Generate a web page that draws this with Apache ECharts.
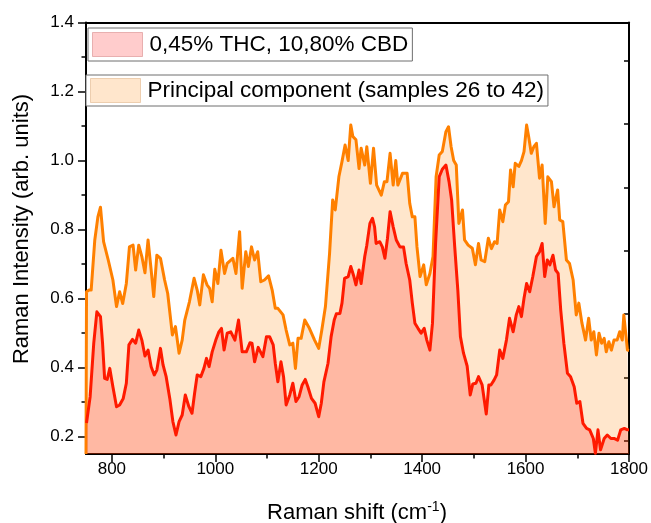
<!DOCTYPE html>
<html><head><meta charset="utf-8">
<script src="https://cdn.jsdelivr.net/npm/echarts@6/dist/echarts.min.js"></script>
<style>html,body{margin:0;padding:0;background:#fff}#c{width:651px;height:523px}</style>
</head><body><div id="c"></div><script>
// Principal component (samples 26 to 42)
const pcShift = [750,751,756,760,767,773,778,784,793,802,809,815,821,828,834,841,846,852,858,864,870,876,881,887,894,902,908,917,923,930,936,941,950,959,965,970,977,984,989,994,999,1005,1011,1018,1023,1034,1040,1047,1052,1059,1064,1070,1076,1082,1088,1095,1103,1110,1116,1121,1131,1137,1144,1150,1155,1160,1166,1173,1182,1192,1200,1206,1213,1221,1227,1232,1239,1245,1251,1257,1262,1266,1272,1278,1282,1289,1293,1300,1306,1312,1321,1327,1332,1338,1344,1349,1353,1362,1371,1376,1381,1386,1390,1396,1403,1408,1415,1421,1427,1433,1439,1446,1451,1456,1461,1466,1471,1478,1482,1489,1497,1503,1509,1514,1521,1528,1534,1540,1545,1550,1556,1561,1567,1571,1576,1580,1587,1592,1597,1602,1606,1611,1616,1621,1627,1632,1638,1643,1650,1655,1662,1666,1672,1679,1685,1692,1698,1703,1709,1716,1722,1727,1732,1737,1742,1747,1752,1756,1761,1766,1771,1777,1782,1787,1790,1793,1797,1800];
const pcIntensity = [0.15,0.62,0.625,0.625,0.77,0.837,0.865,0.765,0.712,0.654,0.577,0.62,0.586,0.644,0.75,0.755,0.683,0.755,0.722,0.675,0.77,0.683,0.606,0.726,0.717,0.654,0.615,0.495,0.519,0.442,0.48,0.538,0.591,0.659,0.625,0.582,0.669,0.64,0.63,0.591,0.685,0.644,0.74,0.673,0.702,0.717,0.673,0.794,0.63,0.736,0.693,0.75,0.712,0.736,0.649,0.654,0.666,0.625,0.572,0.572,0.553,0.509,0.466,0.471,0.398,0.485,0.485,0.538,0.514,0.48,0.456,0.509,0.577,0.731,0.886,0.857,0.953,0.997,1.045,1.0,1.103,1.07,1.06,0.977,1.036,0.987,1.04,0.934,1.036,0.929,0.9,0.939,0.939,1.021,0.929,1.0,0.929,0.963,0.963,0.876,0.837,0.837,0.75,0.664,0.698,0.64,0.673,0.722,0.953,1.016,1.026,1.084,1.098,1.04,1.0,0.987,0.818,0.857,0.77,0.755,0.746,0.698,0.76,0.712,0.707,0.775,0.745,0.765,0.76,0.857,0.823,0.871,0.881,0.973,0.924,0.992,0.983,1.0,1.026,1.103,1.069,1.021,1.04,1.05,0.949,0.987,0.818,0.953,0.939,0.866,0.915,0.828,0.823,0.712,0.702,0.654,0.553,0.587,0.529,0.48,0.543,0.48,0.504,0.437,0.5,0.471,0.485,0.446,0.475,0.451,0.48,0.48,0.504,0.48,0.553,0.509,0.451,0.45];
// 0,45% THC, 10,80% CBD sample
const sampleShift = [751,752,758,765,771,778,782,786,791,796,802,809,815,822,828,833,840,846,852,858,864,870,876,882,887,894,899,905,912,918,924,930,936,942,949,955,960,965,972,978,983,988,994,1001,1007,1012,1017,1023,1030,1038,1045,1052,1060,1067,1071,1076,1083,1092,1099,1105,1112,1116,1121,1127,1132,1137,1144,1150,1156,1162,1168,1174,1179,1186,1193,1200,1205,1210,1218,1224,1230,1234,1241,1245,1250,1257,1262,1268,1272,1278,1282,1289,1293,1299,1304,1308,1311,1318,1323,1328,1333,1338,1344,1350,1357,1364,1369,1376,1381,1386,1392,1398,1404,1409,1415,1420,1426,1433,1439,1446,1452,1457,1463,1469,1474,1480,1487,1493,1498,1504,1509,1516,1524,1529,1533,1539,1544,1550,1556,1563,1569,1576,1582,1587,1592,1597,1602,1608,1614,1621,1627,1632,1637,1642,1647,1653,1658,1663,1668,1674,1681,1687,1694,1699,1705,1711,1718,1724,1731,1735,1740,1745,1752,1758,1765,1771,1778,1784,1791,1797,1800];
const sampleIntensity = [0.24,0.239,0.316,0.471,0.562,0.548,0.471,0.369,0.366,0.398,0.345,0.287,0.292,0.311,0.355,0.466,0.482,0.471,0.509,0.48,0.434,0.451,0.403,0.379,0.393,0.456,0.408,0.374,0.311,0.244,0.205,0.244,0.263,0.321,0.287,0.268,0.326,0.379,0.374,0.398,0.427,0.403,0.446,0.48,0.504,0.514,0.451,0.5,0.504,0.48,0.538,0.446,0.446,0.472,0.471,0.417,0.459,0.432,0.49,0.49,0.466,0.413,0.359,0.417,0.374,0.292,0.321,0.355,0.302,0.316,0.35,0.366,0.345,0.311,0.297,0.258,0.297,0.359,0.413,0.49,0.538,0.556,0.557,0.587,0.659,0.664,0.693,0.664,0.64,0.683,0.644,0.722,0.755,0.818,0.833,0.808,0.76,0.765,0.75,0.717,0.775,0.852,0.808,0.77,0.75,0.75,0.702,0.654,0.587,0.529,0.514,0.5,0.514,0.48,0.451,0.529,0.76,0.953,0.975,0.987,0.939,0.886,0.75,0.625,0.49,0.442,0.405,0.321,0.353,0.355,0.374,0.35,0.266,0.35,0.35,0.364,0.379,0.451,0.427,0.48,0.543,0.504,0.553,0.577,0.548,0.601,0.644,0.62,0.664,0.722,0.736,0.76,0.664,0.712,0.698,0.726,0.683,0.673,0.567,0.471,0.384,0.374,0.345,0.297,0.302,0.239,0.224,0.22,0.195,0.152,0.22,0.162,0.195,0.205,0.195,0.195,0.19,0.22,0.224,0.22,0.22];

const xTicks = [800,1000,1200,1400,1600,1800];
const xMinorTicks = [900,1100,1300,1500,1700];
const yTicks = [0.2,0.4,0.6,0.8,1.0,1.2,1.4];
const yMinorTicks = [0.3,0.5,0.7,0.9,1.1,1.3];
const rightTicks = [0,1,2,3,4,5,6];
const sampleName = '0,45% THC, 10,80% CBD';
const pcName = 'Principal component (samples 26 to 42)';
const xTitle = 'Raman shift (cm';
const xTitleSup = '-1';
const yTitle = 'Raman Intensity (arb. units)';

const FF = '"Liberation Sans", Arial, sans-serif';
const zip = (a, b) => a.map((v, i) => [v, b[i]]);

const chart = echarts.init(document.getElementById('c'), null, {renderer: 'canvas'});
const axisLineStyle = {color: '#000', width: 2};
const baseX = {type: 'value', min: 750, max: 1800, gridIndex: 0, splitLine: {show: false}};
const baseY = {type: 'value', min: 0.15, max: 1.4, gridIndex: 0, splitLine: {show: false}};

chart.setOption({
  animation: false,
  backgroundColor: '#fff',
  grid: {left: 86, right: 22, top: 22.5, bottom: 69, containLabel: false},
  xAxis: [
    Object.assign({}, baseX, {position: 'bottom',
      axisLine: {show: true, onZero: false, lineStyle: axisLineStyle},
      axisTick: {show: true, inside: false, length: 8, lineStyle: {color: '#000', width: 1.5}, customValues: xTicks},
      axisLabel: {show: true, customValues: xTicks, fontSize: 17, color: '#000', fontFamily: FF, margin: 7,
        formatter: v => String(Math.round(v))}}),
    Object.assign({}, baseX, {position: 'bottom',
      axisLine: {show: false, onZero: false},
      axisTick: {show: true, inside: false, length: 4.5, lineStyle: {color: '#000', width: 1.5}, customValues: xMinorTicks},
      axisLabel: {show: false}}),
    Object.assign({}, baseX, {position: 'top',
      axisLine: {show: true, onZero: false, lineStyle: axisLineStyle},
      axisTick: {show: false}, axisLabel: {show: false}})
  ],
  yAxis: [
    Object.assign({}, baseY, {position: 'left',
      axisLine: {show: true, onZero: false, lineStyle: axisLineStyle},
      axisTick: {show: true, inside: false, length: 8, lineStyle: {color: '#000', width: 1.5}, customValues: yTicks},
      axisLabel: {show: true, customValues: yTicks, fontSize: 17, color: '#000', fontFamily: FF, margin: 12,
        formatter: v => Number(v).toFixed(1)}}),
    Object.assign({}, baseY, {position: 'left',
      axisLine: {show: false, onZero: false},
      axisTick: {show: true, inside: false, length: 4.5, lineStyle: {color: '#000', width: 1.5}, customValues: yMinorTicks},
      axisLabel: {show: false}}),
    {type: 'value', gridIndex: 0, position: 'right', min: -0.205, max: 6.6, splitLine: {show: false},
      axisLine: {show: true, onZero: false, lineStyle: axisLineStyle},
      axisTick: {show: true, inside: true, length: 5, lineStyle: {color: '#000', width: 1.5}, customValues: rightTicks},
      axisLabel: {show: false}}
  ],
  legend: [
    {data: [{name: sampleName, icon: 'rect', itemStyle: {color: 'rgba(255,0,0,0.2)', borderColor: 'rgba(210,120,120,0.5)', borderWidth: 1}}],
      left: 88, top: 28, itemWidth: 50, itemHeight: 24, padding: [4, 4, 4, 4], selectedMode: false,
      backgroundColor: '#fff', borderColor: '#6e6e6e', borderWidth: 1,
      textStyle: {fontSize: 22.5, color: '#000', fontFamily: FF, lineHeight: 24, padding: [0, 0, 0, 2]}},
    {data: [{name: pcName, icon: 'rect', itemStyle: {color: 'rgba(255,128,0,0.2)', borderColor: 'rgba(220,170,120,0.5)', borderWidth: 1}}],
      left: 86, top: 75, itemWidth: 50, itemHeight: 24, padding: [3, 4, 3, 4], selectedMode: false,
      backgroundColor: '#fff', borderColor: '#6e6e6e', borderWidth: 1,
      textStyle: {fontSize: 22.5, color: '#000', fontFamily: FF, lineHeight: 24, padding: [0, 0, 0, 2]}}
  ],
  series: [
    {name: pcName, type: 'line', xAxisIndex: 0, yAxisIndex: 0, data: zip(pcShift, pcIntensity),
      showSymbol: false, symbol: 'none', smooth: false, z: 2,
      lineStyle: {color: '#ff8000', width: 3, join: 'round'},
      itemStyle: {color: '#ff8000'},
      areaStyle: {color: 'rgba(255,128,0,0.2)', opacity: 1, origin: 'start'}},
    {name: sampleName, type: 'line', xAxisIndex: 0, yAxisIndex: 0, data: zip(sampleShift, sampleIntensity),
      showSymbol: false, symbol: 'none', smooth: false, z: 3,
      lineStyle: {color: '#ff1a00', width: 3, join: 'round'},
      itemStyle: {color: '#ff1a00'},
      areaStyle: {color: 'rgba(255,0,0,0.2)', opacity: 1, origin: 'start'}}
  ],
  graphic: [
    {type: 'text', x: 22, y: 229, rotation: Math.PI / 2, z: 10,
      style: {text: yTitle, fontSize: 22, fontFamily: FF, fill: '#000', align: 'center', verticalAlign: 'middle'}},
    {type: 'text', x: 357, y: 513, z: 10,
      style: {text: '{a|' + xTitle + '}{s|' + xTitleSup + '}{a|)}', align: 'center', verticalAlign: 'middle', fill: '#000',
        rich: {a: {fontSize: 22, fontFamily: FF, fill: '#000'}, s: {fontSize: 14, fontFamily: FF, fill: '#000', padding: [0, 0, 11, 0]}}}}
  ]
});
</script></body></html>
